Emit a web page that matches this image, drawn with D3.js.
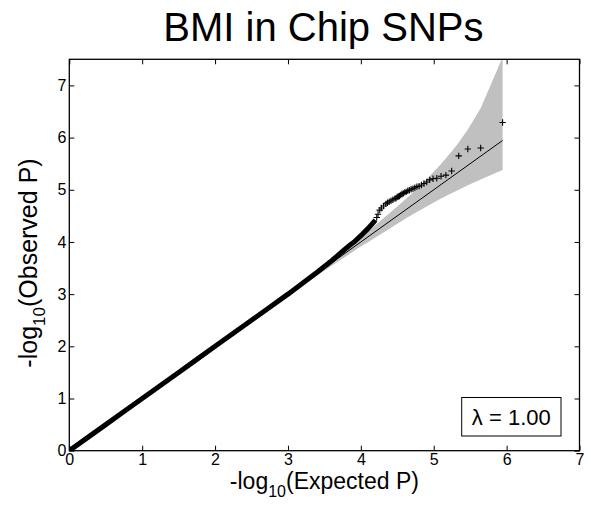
<!DOCTYPE html>
<html>
<head>
<meta charset="utf-8">
<script src="https://cdn.jsdelivr.net/npm/d3@7"></script>
<style>
  body { margin: 0; background: #fff; }
  text { font-family: "Liberation Sans", Arial, Helvetica, sans-serif; fill: #000; }
</style>
</head>
<body>
<svg id="chart" width="591" height="511"></svg>
<script>
// ---------- data ----------
const title = "BMI in Chip SNPs";
const lambdaLabel = "λ = 1.00";
const xTicks = [0, 1, 2, 3, 4, 5, 6, 7];
const yTicks = [0, 1, 2, 3, 4, 5, 6, 7];

// dense part of the QQ curve (expected, observed)
const denseExp = [0, 0.25, 0.5, 0.75, 1.0, 1.25, 1.5, 1.75, 2.0, 2.25, 2.5, 2.75, 3.0, 3.2, 3.4, 3.5, 3.6, 3.7, 3.8, 3.85, 3.9, 4.0, 4.1, 4.17, 4.2];
const denseObs = [0, 0.25, 0.5, 0.75, 1.0, 1.25, 1.5, 1.75, 2.0, 2.25, 2.5, 2.75, 3.0, 3.21, 3.42, 3.53, 3.64, 3.76, 3.88, 3.94, 3.99, 4.12, 4.26, 4.37, 4.42];

// sparse tail points (expected, observed)
const tailExp = [5.945, 5.644, 5.468, 5.343, 5.246, 5.167, 5.100, 5.042, 4.990, 4.945, 4.904, 4.866, 4.831, 4.799, 4.769, 4.741, 4.715, 4.690, 4.666, 4.644, 4.623, 4.603, 4.583, 4.565, 4.547, 4.530, 4.514, 4.498, 4.483, 4.468, 4.440, 4.414, 4.389, 4.365, 4.343, 4.312, 4.282, 4.259, 4.236, 4.218];
const tailObs = [6.29, 5.80, 5.78, 5.65, 5.36, 5.28, 5.26, 5.22, 5.21, 5.19, 5.15, 5.12, 5.09, 5.07, 5.06, 5.04, 5.02, 5.01, 4.99, 4.98, 4.96, 4.95, 4.93, 4.92, 4.90, 4.88, 4.87, 4.86, 4.84, 4.83, 4.81, 4.79, 4.77, 4.75, 4.73, 4.69, 4.65, 4.61, 4.53, 4.47];

// confidence band (expected, upper, lower)
const bandExp   = [0, 2.945, 3.468, 3.945, 4.246, 4.468, 4.644, 4.769, 4.945, 5.100, 5.246, 5.343, 5.468, 5.644, 5.945];
const bandUpper = [0, 2.973, 3.519, 4.035, 4.376, 4.639, 4.858, 5.021, 5.264, 5.495, 5.735, 5.908, 6.153, 6.561, 7.540];
const bandLower = [0, 2.918, 3.418, 3.864, 4.126, 4.320, 4.473, 4.574, 4.713, 4.831, 4.935, 5.002, 5.086, 5.199, 5.378];

// null line
const nullExp = [0, 5.945];

// ---------- layout ----------
const svg = d3.select("#chart");
const L = 69.3, R = 579.5, T = 59.3, B = 450.7;
const x = d3.scaleLinear().domain([0, 7]).range([L, R]);
const y = d3.scaleLinear().domain([0, 7.5]).range([B, T]);

svg.append("defs").append("clipPath").attr("id", "plotclip")
  .append("rect").attr("x", L).attr("y", T).attr("width", R - L).attr("height", B - T);

const plot = svg.append("g").attr("clip-path", "url(#plotclip)");

// band
const band = bandExp.map((e, i) => ({e, u: bandUpper[i], l: bandLower[i]}));
plot.append("path")
  .datum(band)
  .attr("d", d3.area().x(d => x(d.e)).y0(d => y(d.l)).y1(d => y(d.u)))
  .attr("fill", "#c0c0c0")
  .attr("stroke", "none");

// null line
plot.append("path")
  .datum(nullExp)
  .attr("d", d3.line().x(d => x(d)).y(d => y(d)))
  .attr("stroke", "#000").attr("stroke-width", 1).attr("fill", "none");

// dense curve
const dense = denseExp.map((e, i) => ({e, o: denseObs[i]}));
plot.append("path")
  .datum(dense)
  .attr("d", d3.line().x(d => x(d.e)).y(d => y(d.o)))
  .attr("stroke", "#000").attr("stroke-width", 5).attr("fill", "none")
  .attr("stroke-linejoin", "round");

// tail markers
const tail = tailExp.map((e, i) => ({e, o: tailObs[i]}));
const ms = 3.2;
plot.append("g").selectAll("path")
  .data(tail)
  .join("path")
  .attr("d", d => {
    const cx = x(d.e), cy = y(d.o);
    return `M${cx - ms},${cy}H${cx + ms}M${cx},${cy - ms}V${cy + ms}`;
  })
  .attr("stroke", "#000").attr("stroke-width", 1.1).attr("fill", "none");

// ---------- axes ----------
const tickLen = 5;
const fontTick = "16px";

const gx = svg.append("g").attr("transform", `translate(0,${B})`)
  .call(d3.axisBottom(x).tickValues(xTicks).tickFormat(d3.format("d")).tickSize(-tickLen).tickPadding(3));
const gy = svg.append("g").attr("transform", `translate(${L},0)`)
  .call(d3.axisLeft(y).tickValues(yTicks).tickFormat(d3.format("d")).tickSize(-tickLen).tickPadding(3));
const gxt = svg.append("g").attr("transform", `translate(0,${T})`)
  .call(d3.axisTop(x).tickValues(xTicks).tickFormat("").tickSize(-tickLen));
const gyr = svg.append("g").attr("transform", `translate(${R},0)`)
  .call(d3.axisRight(y).tickValues(yTicks).tickFormat("").tickSize(-tickLen));

[gx, gy, gxt, gyr].forEach(g => {
  g.select(".domain").remove();
  g.selectAll("line").attr("stroke", "#000").attr("stroke-width", 1);
  g.selectAll("text").style("font-size", fontTick).style("font-family", '"Liberation Sans", Arial, sans-serif').attr("fill", "#000");
});

// box
svg.append("rect")
  .attr("x", L).attr("y", T).attr("width", R - L).attr("height", B - T)
  .attr("fill", "none").attr("stroke", "#000").attr("stroke-width", 1.3);

// ---------- titles ----------
svg.append("text")
  .attr("x", (L + R) / 2 - 1).attr("y", 41)
  .attr("text-anchor", "middle")
  .style("font-size", "40px")
  .text(title);

// x label
const xl = svg.append("text")
  .attr("x", (L + R) / 2).attr("y", 489)
  .attr("text-anchor", "middle")
  .style("font-size", "23px");
xl.append("tspan").text("-log");
xl.append("tspan").attr("dy", 8).style("font-size", "16px").text("10");
xl.append("tspan").attr("dy", -8).text("(Expected P)");

// y label
const yl = svg.append("text")
  .attr("transform", `translate(37,263) rotate(-90)`)
  .attr("text-anchor", "middle")
  .style("font-size", "25px");
yl.append("tspan").text("-log");
yl.append("tspan").attr("dy", 8).style("font-size", "17px").text("10");
yl.append("tspan").attr("dy", -8).text("(Observed P)");

// lambda legend box
svg.append("rect")
  .attr("x", 461.7).attr("y", 397.5).attr("width", 99.3).attr("height", 38.5)
  .attr("fill", "#fff").attr("stroke", "#000").attr("stroke-width", 1);
svg.append("text")
  .attr("x", 511.3).attr("y", 425)
  .attr("text-anchor", "middle")
  .style("font-size", "22px")
  .text(lambdaLabel);
</script>
</body>
</html>
